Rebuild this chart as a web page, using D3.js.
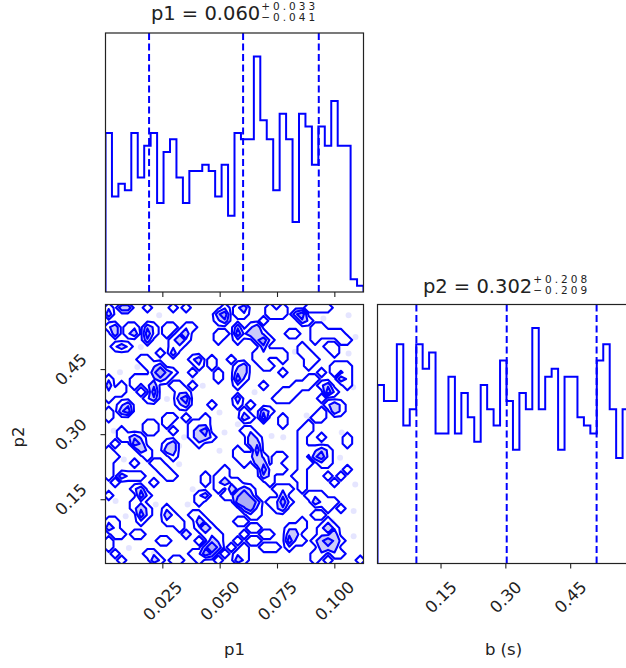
<!DOCTYPE html>
<html>
<head>
<meta charset="utf-8">
<script src="https://cdn.jsdelivr.net/npm/d3@7"></script>
<style>
  html, body { margin: 0; padding: 0; background: #fff; overflow: hidden; }
  svg { display: block; font-family: "DejaVu Sans", sans-serif; }
</style>
</head>
<body>
<svg id="chart" width="626" height="668"></svg>
<script>
// Sample ranges shown on the axes.
const P1_RANGE = [0.0, 0.1125];
const P2_RANGE = [0.003, 0.6];

// 1D histograms, 40 bins each.
const P1_COUNTS = [25, 15, 17, 16, 25, 18, 23, 25, 14, 22, 24, 18, 14, 19, 19, 20, 19, 15, 20, 12,
                   25, 24, 24, 37, 27, 24, 16, 28, 24, 11, 28, 26, 20, 26, 23, 30, 23, 23, 2, 1];
const P2_COUNTS = [22, 20, 20, 27, 17, 19, 27, 24, 26, 16, 16, 23, 16, 21, 18, 15, 22, 19, 17, 25,
                   20, 14, 21, 19, 29, 19, 23, 24, 14, 23, 23, 18, 17, 16, 25, 27, 19, 13, 19, 19];

// 16th / 50th / 84th percentiles (dashed lines)
const P1_QUANTILES = [0.019, 0.060, 0.093];
const P2_QUANTILES = [0.093, 0.302, 0.510];

const P1_TICKS = [0.025, 0.050, 0.075, 0.100];
const P1_TICK_LABELS = ["0.025", "0.050", "0.075", "0.100"];
const P2_TICKS = [0.15, 0.30, 0.45];
const P2_TICK_LABELS = ["0.15", "0.30", "0.45"];

const TITLE_P1 = ["p1 = 0.060", "+0.033", "\u22120.041"];
const TITLE_P2 = ["p2 = 0.302", "+0.208", "\u22120.209"];
const X_LABELS = ["p1", "b (s)"];
const Y_LABEL = "p2";

// 2D histogram p1 (columns, left->right) x p2 (rows, top->bottom), 40x40,
// coarse density levels 0..3.
const DENSITY_ROWS = [
  "1022001000 1010000010 1200010100 0111100000",
  "2000000000 0000000230 1100011102 3000000000",
  "0000000000 0000000120 0000100000 2100000000",
  "1201102101 1011000000 2012000000 0011000000",
  "0201203101 0120000110 3122100011 0011111000",
  "0000002000 1210000100 1002310000 0010001100",
  "0121000000 1100000000 0000200000 1000110000",
  "0000000010 2000000000 0001111100 1100010000",
  "0000011000 0001201001 0001100100 0110000000",
  "0000001120 0000101000 1200110000 0100011100",
  "0000000232 1001000100 2200000100 0001010100",
  "1000111121 0000000100 3100000000 0110002100",
  "2010101200 1101000000 1000100001 1101200100",
  "1110010300 0110000000 0000000111 0000310000",
  "1000001200 0230000000 2000001110 0001000000",
  "0012000000 0120001000 1010000000 0000121000",
  "1023000000 0000000000 0100210000 0001021000",
  "1000000001 1010010000 0210300100 0011000000",
  "0000001101 0001110000 0000000100 0100000000",
  "0010001100 1001230000 0110000000 1100000000",
  "0011210000 0001221000 0021000000 1001000100",
  "0100320001 2000100000 0022000000 1000000100",
  "1000021002 2000000000 1003000000 1112100000",
  "1100001000 1000000000 1112101100 1023100000",
  "1000100110 0000000000 0102201000 1101100000",
  "1000000011 0000000010 0000311100 1000000100",
  "1021110001 1000010110 0000210001 1000101000",
  "0100000100 0000010121 1000010000 1000010000",
  "0000120000 0000000102 1210001110 1000000000",
  "1000031000 0000120011 2320000200 0111000000",
  "0000110000 0000100000 3332011310 0021110000",
  "0000121001 0000000000 0231001200 0000101000",
  "0000031002 1001100000 0011000000 0011000000",
  "1100010001 1100210000 1100000000 1000100000",
  "2100000000 0100121000 0011000011 1001210000",
  "0110110000 0010011100 0100110022 0001120000",
  "1000000011 0000102100 1011000031 1012321000",
  "1000000000 0000023201 0100111010 0002220000",
  "0100001100 0001132010 1100000000 0011011000",
  "0010000210 1100100100 2100000000 0010100001",
];
const CONTOUR_LEVELS = [0.26, 1.2, 2.2];

// Faint sample points outside the contours, [p1, p2].
const SAMPLE_DOTS = [
  [0.0234, 0.575], [0.0154, 0.502], [0.0139, 0.456], [0.0063, 0.444], [0.038, 0.426],
  [0.0424, 0.413], [0.0268, 0.382], [0.0497, 0.351], [0.0036, 0.309], [0.0343, 0.294],
  [0.0519, 0.305], [0.0321, 0.274], [0.0497, 0.263], [0.008, 0.243], [0.0321, 0.232],
  [0.038, 0.174], [0.0044, 0.147], [0.0088, 0.112], [0.0219, 0.139], [0.0358, 0.139],
  [0.0351, 0.070], [0.0212, 0.027], [0.0102, 0.039], [0.106, 0.575], [0.095, 0.568],
  [0.0826, 0.491], [0.106, 0.487], [0.065, 0.398], [0.0577, 0.324], [0.0724, 0.297],
  [0.0775, 0.294], [0.1023, 0.247], [0.1089, 0.185], [0.0658, 0.155], [0.1082, 0.124],
  [0.1082, 0.066], [0.0987, 0.100], [0.0877, 0.344], [0.103, 0.305], [0.108, 0.409],
  [0.109, 0.525],
];

const BLUE = "#0000ff";
const INK = "#222";
const SIZE_W = 258;
const SIZE_H = 259;
const COL_X = [105.5, 377.5];
const ROW_Y = [33, 304.5];
const TICK_FONT = 16.5;
const LABEL_FONT = 16.5;

const svg = d3.select("#chart");

const x1 = d3.scaleLinear().domain(P1_RANGE).range([COL_X[0], COL_X[0] + SIZE_W]);
const x2 = d3.scaleLinear().domain(P2_RANGE).range([COL_X[1], COL_X[1] + SIZE_W]);
const y2 = d3.scaleLinear().domain(P2_RANGE).range([ROW_Y[1] + SIZE_H, ROW_Y[1]]);

function clipFor(id, x0, y0) {
  svg.append("clipPath").attr("id", id)
    .append("rect").attr("x", x0).attr("y", y0).attr("width", SIZE_W).attr("height", SIZE_H);
  return `url(#${id})`;
}

function histPanel(counts, range, xs, y0, quantiles, clipId) {
  const nb = counts.length;
  const w = (range[1] - range[0]) / nb;
  const ys = d3.scaleLinear().domain([0, 1.1 * d3.max(counts)]).range([y0 + SIZE_H, y0]);
  const g = svg.append("g").attr("clip-path", clipFor(clipId, xs.range()[0], y0));

  const pts = [[range[0], 0]];
  counts.forEach((c, i) => {
    pts.push([range[0] + i * w, c]);
    pts.push([range[0] + (i + 1) * w, c]);
  });
  pts.push([range[1], 0]);
  g.append("path")
    .attr("d", d3.line().x((d) => xs(d[0])).y((d) => ys(d[1]))(pts))
    .attr("fill", "none").attr("stroke", BLUE).attr("stroke-width", 2);

  g.selectAll("line.q").data(quantiles).join("line")
    .attr("x1", (d) => xs(d)).attr("x2", (d) => xs(d))
    .attr("y1", y0).attr("y2", y0 + SIZE_H)
    .attr("stroke", BLUE).attr("stroke-width", 2).attr("stroke-dasharray", "7,3.5");
}

function frame(x0, y0) {
  svg.append("rect").attr("x", x0).attr("y", y0).attr("width", SIZE_W).attr("height", SIZE_H)
    .attr("fill", "none").attr("stroke", INK).attr("stroke-width", 1.2);
}

function rotatedHalf(t) {
  const len = t.node().getComputedTextLength();
  return (len + TICK_FONT * 0.75) * 0.7071 / 2;
}

function xTicks(xs, ticks, labels, yBase, withLabels) {
  const g = svg.append("g");
  g.selectAll("line").data(ticks).join("line")
    .attr("x1", (d) => xs(d)).attr("x2", (d) => xs(d))
    .attr("y1", yBase).attr("y2", yBase + 5)
    .attr("stroke", INK).attr("stroke-width", 1.1);
  if (!withLabels) return;
  const top = yBase + 16.5;
  labels.forEach((lab, i) => {
    const t = g.append("text").attr("font-size", TICK_FONT).attr("fill", INK)
      .attr("text-anchor", "middle").attr("dominant-baseline", "central").text(lab);
    t.attr("transform", `translate(${xs(ticks[i])},${top + rotatedHalf(t)}) rotate(-45)`);
  });
}

function yTicks(ys, ticks, labels, xBase) {
  const g = svg.append("g");
  g.selectAll("line").data(ticks).join("line")
    .attr("x1", xBase - 5).attr("x2", xBase)
    .attr("y1", (d) => ys(d)).attr("y2", (d) => ys(d))
    .attr("stroke", INK).attr("stroke-width", 1.1);
  const right = xBase - 17;
  labels.forEach((lab, i) => {
    const t = g.append("text").attr("font-size", TICK_FONT).attr("fill", INK)
      .attr("text-anchor", "middle").attr("dominant-baseline", "central").text(lab);
    t.attr("transform", `translate(${right - rotatedHalf(t)},${ys(ticks[i])}) rotate(-45)`);
  });
}

// value with stacked +/- errors, matplotlib mathtext style
function title(parts, cx, baseline) {
  const g = svg.append("g").attr("fill", INK);
  const main = g.append("text").attr("font-size", 19.5).attr("y", baseline).text(parts[0]);
  const sup = g.append("text").attr("font-size", 10.5).attr("letter-spacing", 3)
    .attr("y", baseline - 10.5).text(parts[1]);
  const sub = g.append("text").attr("font-size", 10.5).attr("letter-spacing", 3)
    .attr("y", baseline + 0.5).text(parts[2]);
  const mw = main.node().getComputedTextLength();
  const sw = Math.max(sup.node().getComputedTextLength(), sub.node().getComputedTextLength());
  const start = cx - (mw + 1 + sw) / 2;
  main.attr("x", start);
  sup.attr("x", start + mw + 1);
  sub.attr("x", start + mw + 1);
}

// ---- top-left: p1 histogram
histPanel(P1_COUNTS, P1_RANGE, x1, ROW_Y[0], P1_QUANTILES, "clip-h1");
frame(COL_X[0], ROW_Y[0]);
xTicks(x1, P1_TICKS, P1_TICK_LABELS, ROW_Y[0] + SIZE_H, false);
title(TITLE_P1, COL_X[0] + SIZE_W / 2, ROW_Y[0] - 13);

// ---- right: p2 histogram
histPanel(P2_COUNTS, P2_RANGE, x2, ROW_Y[1], P2_QUANTILES, "clip-h2");
frame(COL_X[1], ROW_Y[1]);
xTicks(x2, P2_TICKS, P2_TICK_LABELS, ROW_Y[1] + SIZE_H, true);
title(TITLE_P2, COL_X[1] + SIZE_W / 2, ROW_Y[1] - 11.5);

// ---- bottom-left: 2D density contours
const NX = 40, NY = DENSITY_ROWS.length;
const grid = new Array((NX + 2) * (NY + 2)).fill(0);
DENSITY_ROWS.forEach((row, j) => {
  const cells = row.replace(/ /g, "");
  for (let i = 0; i < NX; i++) grid[(i + 1) + (j + 1) * (NX + 2)] = +cells[i];
});
const gx = d3.scaleLinear().domain([1, NX + 1]).range(P1_RANGE);
const gy = d3.scaleLinear().domain([1, NY + 1]).range([P2_RANGE[1], P2_RANGE[0]]);
const proj = d3.geoTransform({
  point(c, r) { this.stream.point(x1(gx(c)), y2(gy(r))); },
});
const geo = d3.geoPath(proj);
const contours = d3.contours().size([NX + 2, NY + 2]).thresholds(CONTOUR_LEVELS)(grid);

const g2 = svg.append("g").attr("clip-path", clipFor("clip-2d", COL_X[0], ROW_Y[1]));
g2.selectAll("circle").data(SAMPLE_DOTS).join("circle")
  .attr("cx", (d) => x1(d[0])).attr("cy", (d) => y2(d[1])).attr("r", 3)
  .attr("fill", BLUE).attr("fill-opacity", 0.1);

const FILL = { 1.2: "rgba(70,70,235,0.28)", 2.2: "rgba(70,70,235,0.22)" };
g2.selectAll("path.fill").data(contours.filter((c) => c.value > 1)).join("path")
  .attr("class", "fill").attr("d", geo).attr("fill", (d) => FILL[d.value]).attr("stroke", "none");
g2.selectAll("path.line").data(contours).join("path")
  .attr("class", "line").attr("d", geo).attr("fill", "none")
  .attr("stroke", BLUE).attr("stroke-width", 2.1).attr("stroke-linejoin", "round");

frame(COL_X[0], ROW_Y[1]);
xTicks(x1, P1_TICKS, P1_TICK_LABELS, ROW_Y[1] + SIZE_H, true);
yTicks(y2, P2_TICKS, P2_TICK_LABELS, COL_X[0]);

// ---- axis labels
svg.append("text").attr("x", COL_X[0] + SIZE_W / 2).attr("y", 655)
  .attr("text-anchor", "middle").attr("font-size", LABEL_FONT).attr("fill", INK).text(X_LABELS[0]);
svg.append("text").attr("x", COL_X[1] + SIZE_W / 2 - 3).attr("y", 655)
  .attr("text-anchor", "middle").attr("font-size", LABEL_FONT).attr("fill", INK).text(X_LABELS[1]);
svg.append("text")
  .attr("transform", `translate(24,${ROW_Y[1] + SIZE_H / 2 + 3}) rotate(-90)`)
  .attr("text-anchor", "middle").attr("font-size", LABEL_FONT).attr("fill", INK).text(Y_LABEL);
</script>
</body>
</html>
